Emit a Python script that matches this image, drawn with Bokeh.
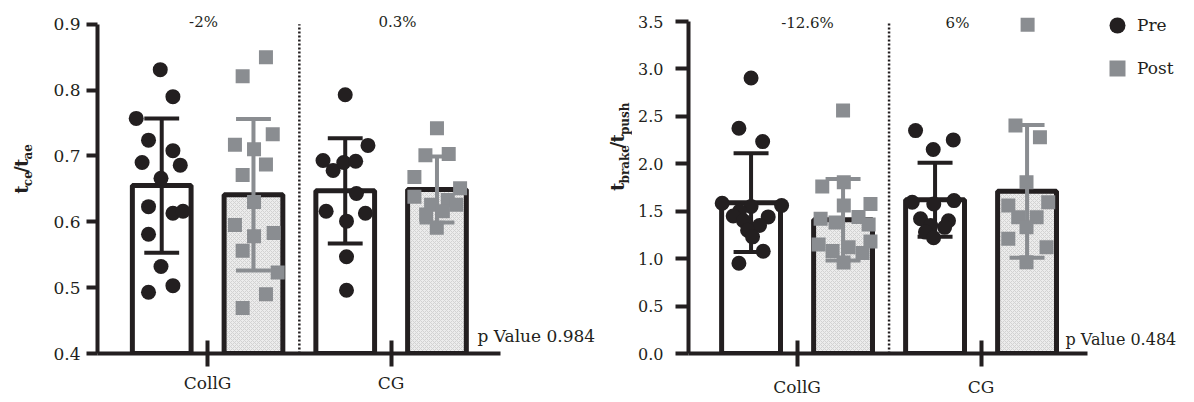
import math
from bokeh.plotting import figure
from bokeh.models import (ColumnDataSource, Range1d, FixedTicker, PrintfTickFormatter,
                          Label, Legend, LegendItem)
from bokeh.layouts import row
from bokeh.embed import file_html
from bokeh.resources import INLINE
from bokeh.core.properties import value

# ---------------- data ----------------
groups = ["CollG", "CG"]
series = ["Pre", "Post"]

# left panel: t_ce / t_ae
tce_pre_mean = [0.655, 0.647]
tce_pre_sd = [0.102, 0.080]
tce_post_mean = [0.641, 0.649]
tce_post_sd = [0.115, 0.050]
tce_change = ["-2%", "0.3%"]
tce_p_text = "p Value 0.984"
tce_ticks = [0.4, 0.5, 0.6, 0.7, 0.8, 0.9]

tce_collg_pre = [0.831, 0.790, 0.757, 0.724, 0.708, 0.690, 0.686, 0.666, 0.623, 0.613, 0.616, 0.581, 0.532, 0.503, 0.493]
tce_collg_pre_dx = [-0.008, 0.061, -0.139, -0.072, 0.061, -0.107, 0.101, -0.004, -0.072, 0.061, 0.116, -0.072, -0.004, 0.061, -0.072]
tce_collg_post = [0.850, 0.821, 0.733, 0.717, 0.710, 0.687, 0.671, 0.630, 0.595, 0.583, 0.578, 0.556, 0.523, 0.490, 0.469]
tce_collg_post_dx = [0.068, -0.059, 0.105, -0.101, 0.003, 0.068, -0.059, 0.003, -0.101, 0.110, 0.003, -0.059, 0.132, 0.068, -0.059]
tce_cg_pre = [0.793, 0.716, 0.693, 0.678, 0.690, 0.692, 0.643, 0.616, 0.613, 0.601, 0.547, 0.496]
tce_cg_pre_dx = [0.0, 0.124, -0.121, -0.066, -0.008, 0.057, 0.061, -0.104, 0.110, 0.007, 0.007, 0.007]
tce_cg_post = [0.742, 0.701, 0.703, 0.668, 0.651, 0.638, 0.633, 0.626, 0.626, 0.611, 0.616, 0.591]
tce_cg_post_dx = [0.0, -0.063, 0.064, -0.123, 0.126, -0.123, 0.059, -0.032, 0.105, -0.059, 0.032, -0.001]

# right panel: t_brake / t_push
tb_pre_mean = [1.59, 1.62]
tb_pre_sd = [0.52, 0.39]
tb_post_mean = [1.41, 1.71]
tb_post_sd = [0.43, 0.70]
tb_change = ["-12.6%", "6%"]
tb_p_text = "p Value 0.484"
tb_ticks = [0.0, 0.5, 1.0, 1.5, 2.0, 2.5, 3.0, 3.5]

tb_collg_pre = [2.905, 2.374, 2.234, 1.584, 1.560, 1.55, 1.50, 1.45, 1.44, 1.40, 1.35, 1.30, 1.23, 1.078, 0.952]
tb_collg_pre_dx = [0.0, -0.066, 0.063, -0.157, 0.166, 0.0, -0.063, -0.097, 0.093, -0.041, 0.046, -0.019, 0.008, 0.066, -0.066]
tb_collg_post = [2.561, 1.805, 1.760, 1.577, 1.560, 1.42, 1.38, 1.44, 1.36, 1.15, 1.08, 1.12, 1.06, 1.18, 0.96]
tb_collg_post_dx = [0.0, 0.004, -0.113, 0.149, 0.004, -0.122, -0.041, 0.084, 0.139, -0.133, -0.057, 0.030, 0.106, 0.149, 0.003]
tb_cg_pre = [2.350, 2.252, 2.150, 1.594, 1.577, 1.612, 1.42, 1.40, 1.35, 1.33, 1.28, 1.22]
tb_cg_pre_dx = [-0.106, 0.099, -0.010, -0.124, -0.007, 0.103, -0.079, 0.073, -0.024, 0.052, -0.052, -0.008]
tb_cg_post = [3.467, 2.403, 2.280, 1.805, 1.560, 1.594, 1.436, 1.436, 1.331, 1.209, 1.120, 0.962]
tb_cg_post_dx = [0.003, -0.063, 0.070, -0.003, -0.102, 0.115, -0.048, 0.052, -0.003, -0.102, 0.106, -0.003]

# ---------------- style ----------------
INK = "#231f20"
GREY = "#8a8d91"
FONT = "DejaVu Serif"
GROUP_X = [1, 2]
OFF = {"Pre": -0.25, "Post": 0.25}
BAR_W = 0.32
CAP = 0.095
H = 402

# approximate advance widths (em) of DejaVu Serif Bold for the composed axis titles
W = {"t": 0.478, "c": 0.593, "e": 0.678, "a": 0.675, "/": 0.365, "b": 0.737, "r": 0.53,
     "k": 0.713, "p": 0.737, "u": 0.764, "s": 0.595, "h": 0.764}


def title_fig(width, pieces, main_x, sub_x, start_y):
    """Narrow strip holding the rotated, sub-scripted y-axis title."""
    t = figure(width=width, height=H, x_range=Range1d(0, width), y_range=Range1d(H, 0),
               output_backend="svg", toolbar_location=None, min_border=0,
               x_axis_location=None, y_axis_location=None)
    t.outline_line_color = None
    t.grid.visible = False
    sy = start_y
    for txt, sub in pieces:
        size = 12 if sub else 18
        t.text(x=[sub_x if sub else main_x], y=[sy], text=[txt], angle=math.pi / 2,
               text_align="left", text_baseline="alphabetic", text_font=value(FONT),
               text_font_style=value("bold"), text_font_size=value(f"{size}px"), text_color=INK)
        sy -= sum(W[c] for c in txt) * size
    return t


def build(cfg):
    fl, fb = cfg["frame_left"], cfg["frame_bottom"]
    fw = cfg["canvas_left"] + cfg["width"] - fl
    px = cfg["px_per_x"]
    x0 = cfg["x0"]
    x1 = x0 + fw / px
    y0, ytop = cfg["ticks"][0], cfg["ticks"][-1]
    py = (fb - cfg["y_top_px"]) / (ytop - y0)
    y1 = y0 + fb / py

    def tx(sx):
        return x0 + (sx - fl) / px

    def ty(sy):
        return y0 + (fb - sy) / py

    p = figure(width=cfg["width"], height=H, x_range=Range1d(x0, x1), y_range=Range1d(y0, y1),
               output_backend="svg", toolbar_location=None, min_border=0,
               min_border_left=fl - cfg["canvas_left"], min_border_bottom=H - fb,
               min_border_top=0, min_border_right=0)
    p.outline_line_color = None
    p.grid.visible = False
    p.background_fill_color = "white"

    base = y0
    # bars
    for s, means, fill in (("Pre", cfg["pre_mean"], "white"), ("Post", cfg["post_mean"], "#ececec")):
        src = ColumnDataSource(dict(x=[g + OFF[s] for g in GROUP_X], top=means))
        kw = {}
        if s == "Post":
            kw = dict(hatch_pattern="diagonal_cross", hatch_color="#d2d2d2", hatch_scale=4, hatch_weight=1)
        p.vbar(x="x", top="top", bottom=base, width=BAR_W, source=src, fill_color=fill,
               line_color=INK, line_width=5, **kw)

    # divider
    p.segment(x0=[1.5], y0=[base], x1=[1.5], y1=[ytop], line_color=INK, line_width=2.5, line_dash="2 2")

    # error bars
    for s, means, sds, col in (("Pre", cfg["pre_mean"], cfg["pre_sd"], INK),
                               ("Post", cfg["post_mean"], cfg["post_sd"], GREY)):
        xs = [g + OFF[s] for g in GROUP_X]
        lo = [m - d for m, d in zip(means, sds)]
        hi = [m + d for m, d in zip(means, sds)]
        p.segment(x0=xs, y0=lo, x1=xs, y1=hi, line_color=col, line_width=4)
        p.segment(x0=[x - CAP for x in xs] * 2, y0=lo + hi, x1=[x + CAP for x in xs] * 2, y1=lo + hi,
                  line_color=col, line_width=4)

    # points
    rends = {}
    for s, pts, marker, col, size in (("Pre", cfg["pre_pts"], "circle", INK, 15),
                                      ("Post", cfg["post_pts"], "square", GREY, 14)):
        xs, ys = [], []
        for g, (vals, dx) in zip(GROUP_X, pts):
            xs += [g + OFF[s] + d for d in dx]
            ys += vals
        rends[s] = p.scatter(x=xs, y=ys, marker=marker, size=size, fill_color=col, line_color=None)

    # axes
    xa = p.xaxis[0]
    xa.ticker = FixedTicker(ticks=GROUP_X)
    xa.major_label_overrides = {g: n for g, n in zip(GROUP_X, groups)}
    xa.bounds = (x0, cfg["x_axis_end"])
    xa.axis_line_width = 4
    xa.axis_line_color = INK
    xa.major_tick_line_width = 4
    xa.major_tick_line_color = INK
    xa.major_tick_in = 13
    xa.major_tick_out = 13
    xa.minor_tick_line_color = None
    xa.major_label_standoff = cfg["x_standoff"]
    xa.axis_label_standoff = 0
    xa.major_label_text_font = FONT
    xa.major_label_text_font_size = "17px"
    xa.major_label_text_color = INK

    ya = p.yaxis[0]
    ya.ticker = FixedTicker(ticks=cfg["ticks"])
    ya.formatter = PrintfTickFormatter(format="%.1f")
    ya.bounds = (y0, ytop)
    ya.axis_line_width = 4
    ya.axis_line_color = INK
    ya.major_tick_line_width = 4
    ya.major_tick_line_color = INK
    ya.major_tick_in = 0
    ya.major_tick_out = cfg["y_tick_out"]
    ya.minor_tick_line_color = None
    ya.major_label_standoff = cfg["y_standoff"]
    ya.axis_label_standoff = 0
    ya.major_label_text_font = FONT
    ya.major_label_text_font_size = cfg["y_font"]
    ya.major_label_text_color = INK

    # percent changes
    for txt, sx in zip(cfg["change"], cfg["change_px"]):
        p.add_layout(Label(x=tx(sx), y=ty(22), text=txt, text_align="center", text_baseline="middle",
                           text_font=FONT, text_font_size="15px", text_color=INK))
    # p value
    p.add_layout(Label(x=tx(cfg["p_px"]), y=ty(339), text=cfg["p_text"], text_align="left",
                       text_baseline="alphabetic", text_font=FONT, text_font_size=cfg["p_font"],
                       text_color=INK))
    return p, rends


left_cfg = dict(
    width=566, canvas_left=36, frame_left=97, frame_bottom=357, y_top_px=24, px_per_x=183.5, x0=0.4,
    x_axis_end=2.594, ticks=tce_ticks,
    pre_mean=tce_pre_mean, pre_sd=tce_pre_sd, post_mean=tce_post_mean, post_sd=tce_post_sd,
    pre_pts=[(tce_collg_pre, tce_collg_pre_dx), (tce_cg_pre, tce_cg_pre_dx)],
    post_pts=[(tce_collg_post, tce_collg_post_dx), (tce_cg_post, tce_cg_post_dx)],
    x_standoff=6, y_tick_out=11, y_standoff=6, y_font="17px",
    change=tce_change, change_px=[203, 397], p_text=tce_p_text, p_px=477, p_font="17px",
)
right_cfg = dict(
    width=560, canvas_left=632, frame_left=688, frame_bottom=353, y_top_px=21, px_per_x=184, x0=0.41,
    x_axis_end=2.58, ticks=tb_ticks,
    pre_mean=tb_pre_mean, pre_sd=tb_pre_sd, post_mean=tb_post_mean, post_sd=tb_post_sd,
    pre_pts=[(tb_collg_pre, tb_collg_pre_dx), (tb_cg_pre, tb_cg_pre_dx)],
    post_pts=[(tb_collg_post, tb_collg_post_dx), (tb_cg_post, tb_cg_post_dx)],
    x_standoff=10, y_tick_out=13, y_standoff=12, y_font="16px",
    change=tb_change, change_px=[807, 957], p_text=tb_p_text, p_px=1065, p_font="16px",
)

t1 = title_fig(36, [("t", False), ("ce", True), ("/", False), ("t", False), ("ae", True)],
               main_x=21, sub_x=27.5, start_y=220)
t2 = title_fig(30, [("t", False), ("brake", True), ("/", False), ("t", False), ("push", True)],
               main_x=617 - 602, sub_x=624 - 602, start_y=217)

p1, _ = build(left_cfg)
p2, rends2 = build(right_cfg)

legend = Legend(items=[LegendItem(label=series[0], renderers=[rends2["Pre"]]),
                       LegendItem(label=series[1], renderers=[rends2["Post"]])],
                location=(1097 - right_cfg["frame_left"], right_cfg["frame_bottom"] - 88),
                glyph_width=40, glyph_height=40, spacing=3,
                padding=0, margin=0, label_standoff=0, border_line_color=None,
                background_fill_alpha=0, label_text_font=FONT, label_text_font_size="17px",
                label_text_color=INK)
p2.add_layout(legend)

layout = row(t1, p1, t2, p2)
open("out.html", "w").write(file_html(layout, INLINE))
